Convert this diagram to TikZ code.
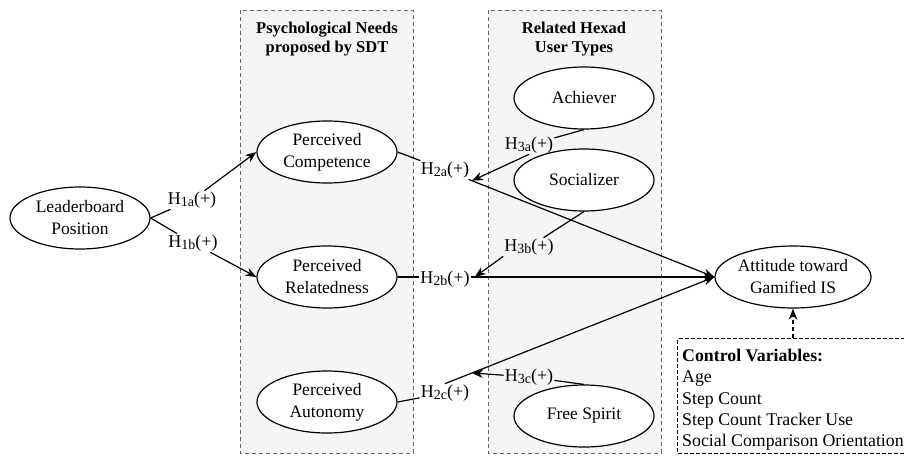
\documentclass[tikz,border=0pt]{standalone}
\usepackage{fontspec}
\setmainfont{Liberation Serif}
\usetikzlibrary{shapes.geometric,arrows.meta,calc}
\newcommand{\hsub}[1]{\raisebox{-0.3ex}{\fontsize{14}{14}\selectfont #1}}
\begin{document}
\begin{tikzpicture}[x=1pt,y=-1pt,
  ell/.style={ellipse,draw,line width=1.2pt,fill=white,minimum width=140pt,minimum height=62pt,inner sep=0pt,align=center,font=\fontsize{17.5}{22}\selectfont},
  hyp/.style={inner sep=1pt,font=\fontsize{18}{20}\selectfont},
  conn/.style={line width=1.2pt},
  arr/.style={line width=1.2pt,-{Stealth[length=11pt,width=8.5pt]}},
  groupbox/.style={draw=black!60,dash pattern=on 4pt off 3pt,fill=black!4,line width=0.9pt},
  ttl/.style={font=\bfseries\fontsize{16.5}{19}\selectfont,align=center,inner sep=0pt},
  ctrlbox/.style={draw,dash pattern=on 4pt off 2pt,line width=1.3pt,fill=white,minimum width=227pt,minimum height=115pt,anchor=north west,inner sep=0pt},
  ctrltext/.style={anchor=north west,align=left,inner sep=0pt,font=\fontsize{17.8}{21.3}\selectfont}
]
\useasboundingbox (0,0) rectangle (904,455);
\fill[white] (0,0) rectangle (904,455);

% group containers
\draw[groupbox] (240,10) rectangle (413,453);
\draw[groupbox] (488,10) rectangle (661,453);
\node[ttl] (t1) at (327,39) {Psychological Needs\\proposed by SDT};
\node[ttl] (t2) at (574,39) {Related Hexad\\User Types};

% ellipses
\node[ell] (LP) at (80,218) {Leaderboard\\Position};
\node[ell] (PC) at (327,152) {Perceived\\Competence};
\node[ell] (PR) at (327,277) {Perceived\\Relatedness};
\node[ell] (PA) at (327,402) {Perceived\\Autonomy};
\node[ell] (ACH) at (584,98) {Achiever};
\node[ell] (SOC) at (584,180) {Socializer};
\node[ell] (FS) at (584,416) {Free Spirit};
\node[ell] (AT) at (793,277) {Attitude toward\\Gamified IS};

% hypothesis labels
\node[hyp] (h1a) at (192,200) {H\hsub{1a}(+)};
\node[hyp] (h1b) at (193,243) {H\hsub{1b}(+)};
\node[hyp] (h2a) at (445,170) {H\hsub{2a}(+)};
\node[hyp] (h2b) at (445,279) {H\hsub{2b}(+)};
\node[hyp] (h2c) at (445,393) {H\hsub{2c}(+)};
\node[hyp] (h3a) at (529,145) {H\hsub{3a}(+)};
\node[hyp] (h3b) at (529,247) {H\hsub{3b}(+)};
\node[hyp] (h3c) at (529,377) {H\hsub{3c}(+)};

% moderation targets on the H2 paths
\coordinate (m2a) at ($(h2a)!0.1!(AT.west)$);
\coordinate (m2b) at ($(h2b.east |- AT.west)+(4,0)$);
\coordinate (m2c) at ($(h2c.north)!0.1!(AT.west)$);

% H1
\draw[conn] (LP.east) -- (h1a);
\draw[arr] (h1a) -- (PC.west);
\draw[conn] (LP.east) -- (h1b);
\draw[arr] (h1b) -- (PR.west);

% H2
\draw[conn] (PC.east) -- (h2a);
\draw[arr] (h2a) -- (AT.west);
\draw[conn] (PR.east) -- (h2b.west |- PR.east);
\draw[arr] (h2b.east |- AT.west) -- (AT.west);
\draw[conn] (PA.east) -- (h2c);
\draw[arr] (h2c.north) -- (AT.west);

% H3
\draw[conn] (ACH.south) -- (h3a);
\draw[arr] (h3a.south) -- (m2a);
\draw[conn] (SOC.south) -- (h3b);
\draw[arr] (h3b.south west) -- (m2b);
\draw[conn] (h3c) -- (FS.north);
\draw[arr] (h3c) -- (m2c);

% control variables
\node[ctrlbox] (CV) at (677,338) {};
\node[ctrltext] (CVt) at (682,349) {\textbf{Control Variables:}\\Age\\Step Count\\Step Count Tracker Use\\Social Comparison Orientation};
\draw[line width=1.3pt,dash pattern=on 4pt off 3pt,-{Stealth[length=11pt,width=8.5pt]}] (AT.south |- CV.north) -- (AT.south);
\end{tikzpicture}
\end{document}
